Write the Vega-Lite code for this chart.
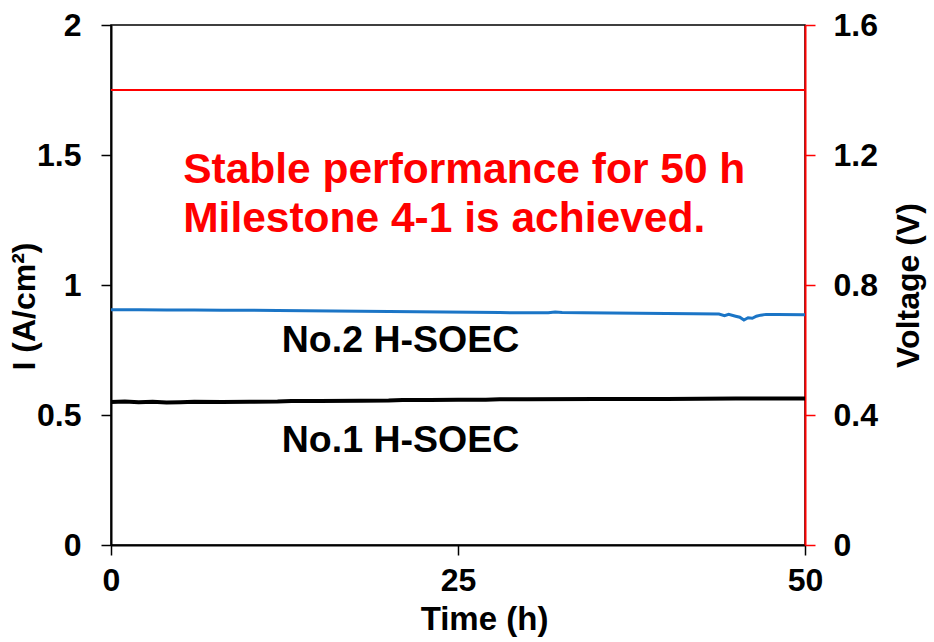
{
  "$schema": "https://vega.github.io/schema/vega-lite/v6.json",
  "width": 694,
  "height": 520,
  "autosize": {"type": "none"},
  "padding": {"left": 111, "top": 25, "right": 129, "bottom": 97},
  "background": "white",
  "config": {
    "font": "Liberation Sans",
    "view": {"stroke": "black", "strokeWidth": 1.5},
    "axis": {"grid": false, "labelFontSize": 32, "labelFontWeight": "bold", "labelColor": "black", "titleFontSize": 32, "titleFontWeight": "bold", "titleColor": "black", "tickSize": 10, "tickWidth": 1.5, "domainWidth": 2}
  },
  "datasets": {
    "no1": [
      {"t": 0, "i": 0.550}, {"t": 1, "i": 0.552}, {"t": 2, "i": 0.549}, {"t": 3, "i": 0.551},
      {"t": 4, "i": 0.548}, {"t": 5, "i": 0.549}, {"t": 6, "i": 0.551}, {"t": 8, "i": 0.550},
      {"t": 10, "i": 0.551}, {"t": 12, "i": 0.552}, {"t": 13, "i": 0.554}, {"t": 15, "i": 0.554},
      {"t": 18, "i": 0.555}, {"t": 20, "i": 0.556}, {"t": 21, "i": 0.558}, {"t": 23, "i": 0.558},
      {"t": 25, "i": 0.559}, {"t": 27, "i": 0.559}, {"t": 28, "i": 0.561}, {"t": 30, "i": 0.561},
      {"t": 35, "i": 0.562}, {"t": 40, "i": 0.562}, {"t": 45, "i": 0.563}, {"t": 50, "i": 0.563}
    ],
    "no2": [
      {"t": 0, "i": 0.905}, {"t": 2, "i": 0.905}, {"t": 4, "i": 0.904}, {"t": 6, "i": 0.904},
      {"t": 8, "i": 0.903}, {"t": 10, "i": 0.903}, {"t": 12, "i": 0.902}, {"t": 14, "i": 0.901},
      {"t": 16, "i": 0.900}, {"t": 18, "i": 0.899}, {"t": 20, "i": 0.898}, {"t": 22, "i": 0.897},
      {"t": 24, "i": 0.896}, {"t": 26, "i": 0.895}, {"t": 28, "i": 0.894}, {"t": 30, "i": 0.893},
      {"t": 31.5, "i": 0.893}, {"t": 32, "i": 0.896}, {"t": 32.5, "i": 0.894}, {"t": 34, "i": 0.893},
      {"t": 36, "i": 0.892}, {"t": 38, "i": 0.891}, {"t": 40, "i": 0.890}, {"t": 42, "i": 0.889},
      {"t": 43.8, "i": 0.888}, {"t": 44.2, "i": 0.882}, {"t": 44.5, "i": 0.887}, {"t": 45, "i": 0.880},
      {"t": 45.3, "i": 0.876}, {"t": 45.6, "i": 0.865}, {"t": 45.9, "i": 0.874}, {"t": 46.2, "i": 0.872},
      {"t": 46.5, "i": 0.880}, {"t": 46.8, "i": 0.884}, {"t": 47.2, "i": 0.887}, {"t": 48, "i": 0.887},
      {"t": 50, "i": 0.886}
    ],
    "redText": [
      {"t": 5.2, "i": 1.392, "label": "Stable performance for 50 h"},
      {"t": 5.2, "i": 1.204, "label": "Milestone 4-1 is achieved."}
    ],
    "blackText": [
      {"t": 12.3, "i": 0.742, "label": "No.2 H-SOEC"},
      {"t": 12.3, "i": 0.358, "label": "No.1 H-SOEC"}
    ],
    "voltage": [{"v": 1.4}]
  },
  "layer": [
    {
      "encoding": {
        "x": {"field": "t", "type": "quantitative", "scale": {"domain": [0, 50], "nice": false},
          "axis": {"values": [0, 25, 50], "labelFlush": false, "title": "Time (h)", "titleFontSize": 33, "titleX": 373, "domainColor": "black", "tickColor": "black", "labelPadding": 10, "titlePadding": 7}},
        "y": {"field": "i", "type": "quantitative", "scale": {"domain": [0, 2], "nice": false},
          "axis": {"orient": "left", "values": [0, 0.5, 1, 1.5, 2], "format": "~g", "title": "I (A/cm²)", "titleY": 281, "domainColor": "black", "tickColor": "black", "labelPadding": 20, "titlePadding": -5}}
      },
      "layer": [
        {"data": {"name": "no1"}, "mark": {"type": "line", "color": "black", "strokeWidth": 4}},
        {"data": {"name": "no2"}, "mark": {"type": "line", "color": "#1b75c6", "strokeWidth": 3}},
        {"data": {"name": "redText"}, "mark": {"type": "text", "align": "left", "baseline": "alphabetic", "color": "#ff0000", "fontSize": 42.5, "fontWeight": "bold"}, "encoding": {"text": {"field": "label"}}},
        {"data": {"name": "blackText"}, "mark": {"type": "text", "align": "left", "baseline": "alphabetic", "color": "black", "fontSize": 37.5, "fontWeight": "bold"}, "encoding": {"text": {"field": "label"}}}
      ]
    },
    {
      "data": {"name": "voltage"},
      "mark": {"type": "rule", "color": "#ff0000", "strokeWidth": 2},
      "encoding": {
        "y": {"field": "v", "type": "quantitative", "scale": {"domain": [0, 1.6], "nice": false},
          "axis": {"orient": "right", "values": [0, 0.4, 0.8, 1.2, 1.6], "format": "~g", "title": "Voltage (V)", "titleAngle": 270, "titleBaseline": "top", "domainColor": "#ff0000", "tickColor": "#ff0000", "labelPadding": 18, "titlePadding": 16}}
      }
    }
  ],
  "resolve": {"scale": {"y": "independent"}}
}
